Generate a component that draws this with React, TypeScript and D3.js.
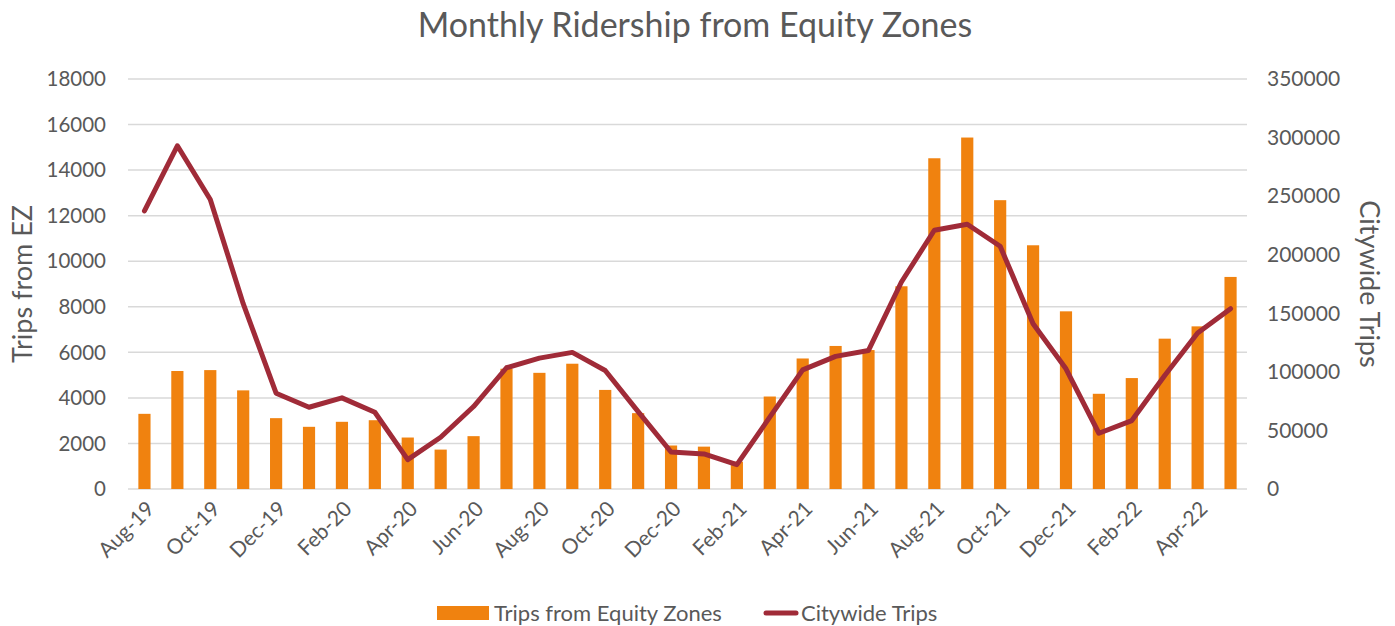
import React, { useRef, useEffect } from 'react';
import * as d3 from 'd3';

const months = [
  'Aug-19', 'Sep-19', 'Oct-19', 'Nov-19', 'Dec-19', 'Jan-20', 'Feb-20', 'Mar-20', 'Apr-20', 'May-20',
  'Jun-20', 'Jul-20', 'Aug-20', 'Sep-20', 'Oct-20', 'Nov-20', 'Dec-20', 'Jan-21', 'Feb-21', 'Mar-21',
  'Apr-21', 'May-21', 'Jun-21', 'Jul-21', 'Aug-21', 'Sep-21', 'Oct-21', 'Nov-21', 'Dec-21', 'Jan-22',
  'Feb-22', 'Mar-22', 'Apr-22', 'May-22'
];

const ezTrips = [
  3300, 5180, 5220, 4330, 3110, 2730, 2950, 3020, 2260, 1730,
  2320, 5280, 5100, 5500, 4350, 3330, 1910, 1860, 1200, 4060,
  5730, 6280, 6100, 8900, 14520, 15430, 12680, 10700, 7800, 4180,
  4870, 6600, 7140, 9310
];

const citywideTrips = [
  237400, 293000, 247100, 158200, 81800, 69800, 77800, 65500, 25100, 44200,
  70400, 103500, 111700, 116600, 101200, 66100, 31600, 29900, 20800, 61300,
  101700, 113200, 118300, 176700, 220900, 226000, 207200, 141100, 102600, 47600,
  58400, 96900, 133100, 153900
];

const leftTicks = [0, 2000, 4000, 6000, 8000, 10000, 12000, 14000, 16000, 18000];
const rightTicks = [0, 50000, 100000, 150000, 200000, 250000, 300000, 350000];

const W = 1395;
const H = 626;
const FONT = 'Lato, "Open Sans", sans-serif';
const TEXT = '#595959';
const ORANGE = '#F0820F';
const RED = '#A02B38';

export default function App() {
  const svgRef = useRef<SVGSVGElement>(null);

  useEffect(() => {
    const svg = d3.select(svgRef.current);
    svg.selectAll('*').remove();

    const left = 128, right = 1247, top = 79, bottom = 489;

    const x = d3.scaleBand().domain(months).range([left, right]).paddingInner(0.63).paddingOuter(0.315);
    const yL = d3.scaleLinear().domain([0, 18000]).range([bottom, top]);
    const yR = d3.scaleLinear().domain([0, 350000]).range([bottom, top]);
    const cx = (m: string) => (x(m) as number) + x.bandwidth() / 2;

    // gridlines
    svg.append('g')
      .selectAll('line')
      .data(leftTicks)
      .join('line')
      .attr('x1', left).attr('x2', right)
      .attr('y1', d => yL(d)).attr('y2', d => yL(d))
      .attr('stroke', '#D9D9D9').attr('stroke-width', 1.5);

    // bars
    svg.append('g')
      .selectAll('rect')
      .data(ezTrips)
      .join('rect')
      .attr('x', (d, i) => x(months[i]) as number)
      .attr('width', x.bandwidth())
      .attr('y', d => yL(d))
      .attr('height', d => bottom - yL(d))
      .attr('fill', ORANGE);

    // line
    const line = d3.line<number>()
      .x((d, i) => cx(months[i]))
      .y(d => yR(d));
    svg.append('path')
      .datum(citywideTrips)
      .attr('d', line)
      .attr('fill', 'none')
      .attr('stroke', RED)
      .attr('stroke-width', 5)
      .attr('stroke-linejoin', 'round')
      .attr('stroke-linecap', 'round');

    // left axis labels
    svg.append('g')
      .selectAll('text')
      .data(leftTicks)
      .join('text')
      .attr('x', 106)
      .attr('y', d => yL(d))
      .attr('dy', '0.35em')
      .attr('text-anchor', 'end')
      .attr('font-size', 20.5)
      .attr('fill', TEXT)
      .text(d => String(d));

    // right axis labels
    svg.append('g')
      .selectAll('text')
      .data(rightTicks)
      .join('text')
      .attr('x', 1267)
      .attr('y', d => yR(d))
      .attr('dy', '0.35em')
      .attr('text-anchor', 'start')
      .attr('font-size', 21)
      .attr('fill', TEXT)
      .text(d => String(d));

    // x labels
    svg.append('g')
      .selectAll('text')
      .data(months.filter((m, i) => i % 2 === 0))
      .join('text')
      .attr('transform', d => `translate(${cx(d) + 6},${bottom + 16}) rotate(-45)`)
      .attr('text-anchor', 'end')
      .attr('dy', '0.35em')
      .attr('font-size', 21)
      .attr('fill', TEXT)
      .text(d => d);

    // title
    svg.append('text')
      .attr('x', 695).attr('y', 37)
      .attr('text-anchor', 'middle')
      .attr('font-size', 34)
      .attr('fill', TEXT)
      .text('Monthly Ridership from Equity Zones');

    // axis titles
    svg.append('text')
      .attr('transform', `translate(23,${(top + bottom) / 2}) rotate(-90)`)
      .attr('text-anchor', 'middle')
      .attr('dy', '0.35em')
      .attr('font-size', 27)
      .attr('fill', TEXT)
      .text('Trips from EZ');
    svg.append('text')
      .attr('transform', `translate(1369,${(top + bottom) / 2}) rotate(90)`)
      .attr('text-anchor', 'middle')
      .attr('dy', '0.35em')
      .attr('font-size', 27)
      .attr('fill', TEXT)
      .text('Citywide Trips');

    // legend
    const lg = svg.append('g').attr('font-size', 22).attr('fill', TEXT);
    lg.append('rect').attr('x', 437).attr('y', 606).attr('width', 52).attr('height', 14).attr('fill', ORANGE);
    lg.append('text').attr('x', 494).attr('y', 613).attr('dy', '0.35em').text('Trips from Equity Zones');
    lg.append('line').attr('x1', 766).attr('x2', 796).attr('y1', 613).attr('y2', 613)
      .attr('stroke', RED).attr('stroke-width', 5).attr('stroke-linecap', 'round');
    lg.append('text').attr('x', 801).attr('y', 613).attr('dy', '0.35em').text('Citywide Trips');
  }, []);

  return (
    <svg ref={svgRef} width={W} height={H}
      style={{ position: 'absolute', left: 0, top: 0, display: 'block', fontFamily: FONT, background: '#fff' }} />
  );
}
